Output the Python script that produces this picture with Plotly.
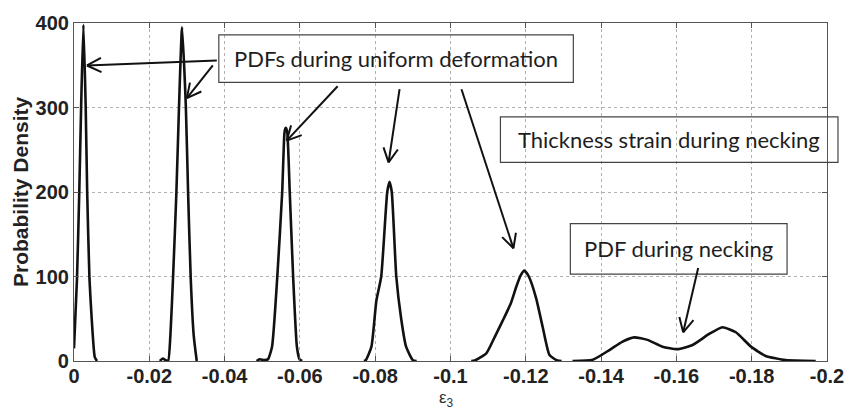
import math
import plotly.graph_objects as go

# ---------------- data ----------------
pdf1_x = [0.0, -0.0008, -0.0014, -0.0019, -0.0025, -0.0031, -0.0035, -0.0041, -0.0047, -0.0055, -0.0061]
pdf1_y = [15, 98, 200, 302, 398, 302, 200, 98, 50, 5, 0]

pdf2_x = [-0.0228, -0.0236, -0.0243, -0.0250, -0.0256, -0.0263, -0.0272, -0.0279, -0.0287, -0.0297, -0.0303, -0.0310, -0.0318, -0.0326]
pdf2_y = [0, 3, 1, 0, 30, 98, 200, 302, 395, 302, 200, 98, 30, 0]

pdf3_x = [-0.0485, -0.0493, -0.0505, -0.0515, -0.0526, -0.0540, -0.0553, -0.0559, -0.0562, -0.0566, -0.0573, -0.0582, -0.0592, -0.0599, -0.0606]
pdf3_y = [0, 2, 1, 2, 17, 100, 200, 270, 276, 272, 200, 100, 17, 2, 0]

pdf4_x = [-0.0770, -0.0775, -0.0790, -0.0803, -0.0816, -0.0832, -0.0838, -0.0844, -0.0856, -0.0869, -0.0882, -0.0900, -0.0910]
pdf4_y = [0, 1, 17, 71, 100, 200, 212, 200, 100, 50, 17, 1, 0]

pdf5_x = [-0.1055, -0.1064, -0.1095, -0.1117, -0.1139, -0.1160, -0.1174, -0.1186, -0.1196, -0.1208, -0.1227, -0.1245, -0.1263, -0.1284, -0.1295]
pdf5_y = [0, 0.5, 9, 28, 48, 68, 87, 101, 107, 100, 75, 40, 7, 0.5, 0]

pdf6_x = [-0.1324, -0.1378, -0.1422, -0.1457, -0.1488, -0.1523, -0.1563, -0.1603, -0.1643, -0.1687,
          -0.1722, -0.1758, -0.1798, -0.1837, -0.1890, -0.1970]
pdf6_y = [0, 1.5, 13, 23, 28, 25, 17, 14, 19, 32, 40, 34, 17, 6, 1, 0]

x_ticks = [0, -0.02, -0.04, -0.06, -0.08, -0.1, -0.12, -0.14, -0.16, -0.18, -0.2]
x_tick_labels = ["0", "-0.02", "-0.04", "-0.06", "-0.08", "-0.1", "-0.12", "-0.14", "-0.16", "-0.18", "-0.2"]
y_ticks = [0, 100, 200, 300, 400]
y_tick_labels = ["0", "100", "200", "300", "400"]

box_texts = ["PDFs during uniform deformation", "Thickness strain during necking", "PDF during necking"]

# ---------------- layout geometry (pixels) ----------------
W, H = 856, 410
ML, MR, MT, MB = 74, 28, 19, 49
PW, PH = W - ML - MR, H - MT - MB


def paper(px, py):
    return (px - ML) / PW, (H - MB - py) / PH


# boxes: (left, top, right, bottom) in figure pixels
boxes = [(219, 31, 574, 79), (501, 114, 839, 160), (571, 222, 788, 273)]
# arrows: tail -> head in figure pixels
arrows = [((217, 57), (87, 62)),
          ((213, 62), (187, 95)),
          ((338, 83), (287, 138)),
          ((400, 86), (389, 160)),
          ((462, 86), (514, 247)),
          ((699, 267), (684, 332))]

fig = go.Figure()
for xs, ys in [(pdf1_x, pdf1_y), (pdf2_x, pdf2_y), (pdf3_x, pdf3_y),
               (pdf4_x, pdf4_y), (pdf5_x, pdf5_y), (pdf6_x, pdf6_y)]:
    fig.add_trace(go.Scatter(x=xs, y=ys, mode="lines", showlegend=False,
                             line=dict(color="#111111", width=2.6, shape="spline", smoothing=0.5)))

shapes = []
annotations = []
for (l, t, r, b), txt in zip(boxes, box_texts):
    x0, y0 = paper(l, b)
    x1, y1 = paper(r, t)
    shapes.append(dict(type="rect", xref="paper", yref="paper", x0=x0, y0=y0, x1=x1, y1=y1,
                       line=dict(color="#444444", width=1.2), fillcolor="rgba(0,0,0,0)", layer="above"))
    cx, cy = paper((l + r) / 2, (t + b) / 2)
    annotations.append(dict(text=txt, xref="paper", yref="paper", x=cx, y=cy, showarrow=False,
                            xanchor="center", yanchor="middle",
                            font=dict(family="Lato", size=22, color="#1e1e1e")))

HEAD_LEN, HEAD_ANG = 16, math.radians(27)
for (tx, ty), (hx, hy) in arrows:
    a0, b0 = paper(tx, ty)
    a1, b1 = paper(hx, hy)
    shapes.append(dict(type="line", xref="paper", yref="paper", x0=a0, y0=b0, x1=a1, y1=b1,
                       line=dict(color="#111111", width=2), layer="above"))
    dx, dy = tx - hx, ty - hy
    n = math.hypot(dx, dy)
    ux, uy = dx / n, dy / n
    for s in (1, -1):
        c, si = math.cos(s * HEAD_ANG), math.sin(s * HEAD_ANG)
        ex = hx + HEAD_LEN * (ux * c - uy * si)
        ey = hy + HEAD_LEN * (ux * si + uy * c)
        e0, f0 = paper(ex, ey)
        shapes.append(dict(type="line", xref="paper", yref="paper", x0=a1, y0=b1, x1=e0, y1=f0,
                           line=dict(color="#111111", width=2), layer="above"))

# y-axis title
annotations.append(dict(text="<b>Probability Density</b>", xref="paper", yref="paper", x=0, y=0.5,
                        xanchor="center", yanchor="middle", xshift=-(ML - 20), textangle=-90,
                        showarrow=False, font=dict(family="Liberation Sans", size=21, color="#222222")))
# x-axis title
annotations.append(dict(text="ε<sub>3</sub>", xref="paper", yref="paper", x=(447 - ML) / PW, y=0,
                        xanchor="center", yanchor="top", yshift=-25,
                        showarrow=False, font=dict(family="Liberation Sans", size=17, color="#333333")))

axis_common = dict(showline=True, linecolor="#555555", linewidth=1.2, mirror="ticks",
                   ticks="inside", ticklen=5, tickcolor="#555555",
                   showgrid=True, gridcolor="#b0b0b0", griddash="dot", gridwidth=1,
                   zeroline=False,
                   tickfont=dict(family="Liberation Sans", size=20, color="#222222"))

fig.update_layout(
    width=W, height=H, margin=dict(l=ML, r=MR, t=MT, b=MB, pad=0),
    paper_bgcolor="white", plot_bgcolor="white",
    xaxis=dict(range=[0, -0.2], tickvals=x_ticks, ticklabelstandoff=-3,
               ticktext=["<b>%s</b>" % t for t in x_tick_labels], **axis_common),
    yaxis=dict(range=[0, 400], tickvals=y_ticks,
               ticktext=["<b>%s</b>" % t for t in y_tick_labels], **axis_common),
    shapes=shapes, annotations=annotations,
)

fig.write_html("out.html")
